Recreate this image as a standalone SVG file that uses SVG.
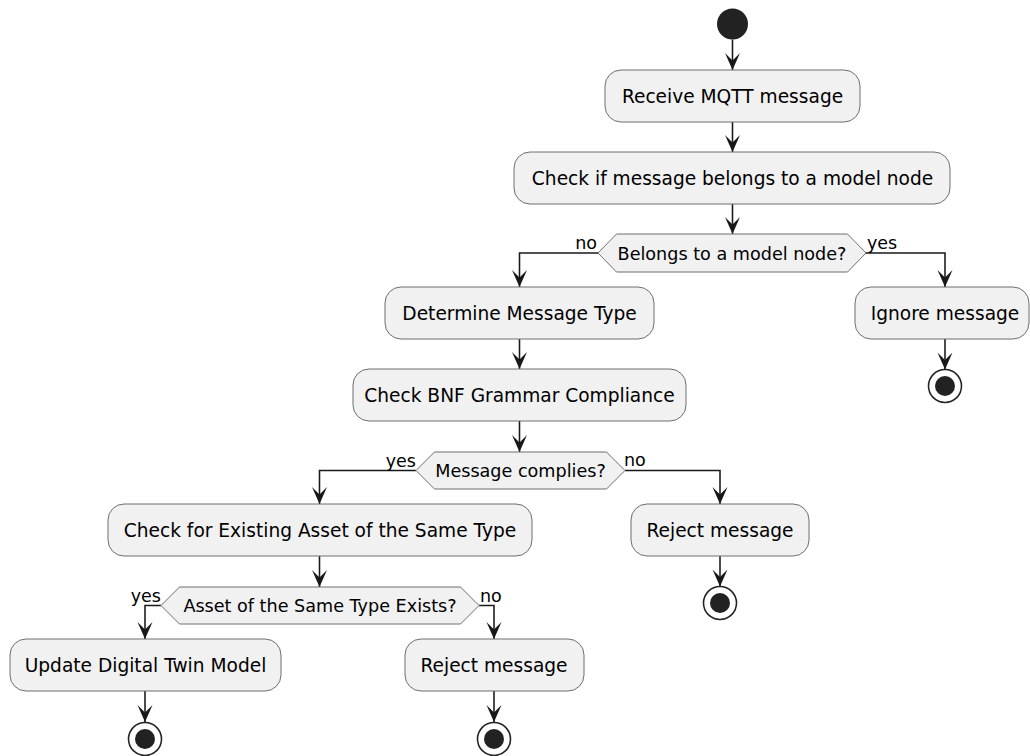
<svg xmlns="http://www.w3.org/2000/svg" width="1030" height="756" viewBox="0 0 1030 756">
<style>
.box{fill:#F1F1F1;stroke:#6e6e6e;stroke-width:1}
.t{font-family:"DejaVu Sans",sans-serif;font-size:18.6px;fill:#000;text-anchor:middle}
.dt{font-family:"DejaVu Sans",sans-serif;font-size:17.6px;fill:#000;text-anchor:middle}
.lbl{font-family:"DejaVu Sans",sans-serif;font-size:17.5px;fill:#000}
.e{text-anchor:end}
.ln{fill:none;stroke:#181818;stroke-width:1.55}
.endo{fill:#fff;stroke:#222;stroke-width:1.55}
.endi{fill:#222}
</style>
<defs>
<marker id="ah" markerUnits="userSpaceOnUse" viewBox="0 0 17 16" refX="17" refY="8" markerWidth="17" markerHeight="16" orient="auto">
<path d="M0,0.5 L17,8 L0,15.5 L7.5,8 Z" fill="#181818"/>
</marker>
</defs>
<g id="connectors">
<path class="ln" d="M732.5,39.5 V70" marker-end="url(#ah)"/>
<path class="ln" d="M732.5,122 V152" marker-end="url(#ah)"/>
<path class="ln" d="M732.5,204 V234" marker-end="url(#ah)"/>
<path class="ln" d="M598,253 H519.5 V287" marker-end="url(#ah)"/>
<path class="ln" d="M866,253 H945 V287" marker-end="url(#ah)"/>
<path class="ln" d="M945,339 V369.5" marker-end="url(#ah)"/>
<path class="ln" d="M519.5,339 V369" marker-end="url(#ah)"/>
<path class="ln" d="M519.5,421 V452" marker-end="url(#ah)"/>
<path class="ln" d="M416,470.5 H319.5 V504" marker-end="url(#ah)"/>
<path class="ln" d="M625,470.5 H720 V504" marker-end="url(#ah)"/>
<path class="ln" d="M720,556 V586.5" marker-end="url(#ah)"/>
<path class="ln" d="M319.5,556 V587" marker-end="url(#ah)"/>
<path class="ln" d="M161,605.5 H145 V639" marker-end="url(#ah)"/>
<path class="ln" d="M479,605.5 H494 V639" marker-end="url(#ah)"/>
<path class="ln" d="M145,691 V722" marker-end="url(#ah)"/>
<path class="ln" d="M494,691 V722" marker-end="url(#ah)"/>
<text class="lbl e" x="597" y="249">no</text>
<text class="lbl" x="867" y="249">yes</text>
<text class="lbl e" x="416" y="467">yes</text>
<text class="lbl" x="624" y="466">no</text>
<text class="lbl e" x="161" y="602">yes</text>
<text class="lbl" x="480" y="602">no</text>
</g>
<g id="start"><circle cx="732.5" cy="24" r="15.5" fill="#222"/></g>
<g id="receive"><rect class="box" x="605" y="70" width="255" height="52" rx="16"/><text class="t" x="732.5" y="102.5">Receive MQTT message</text></g>
<g id="check-model"><rect class="box" x="514" y="152" width="436" height="52" rx="16"/><text class="t" x="732.5" y="184.5">Check if message belongs to a model node</text></g>
<g id="belongs"><polygon class="box" points="616.5,234 847.5,234 866,253 847.5,272 616.5,272 598,253"/><text class="dt" x="732" y="259.5">Belongs to a model node?</text></g>
<g id="determine"><rect class="box" x="385" y="287" width="269" height="52" rx="16"/><text class="t" x="519.5" y="319.5">Determine Message Type</text></g>
<g id="ignore"><rect class="box" x="855" y="287" width="174" height="52" rx="16"/><text class="t" x="945" y="319.5">Ignore message</text></g>
<g id="end-ignore"><circle class="endo" cx="945" cy="386" r="16.5"/><circle class="endi" cx="945" cy="386" r="10"/></g>
<g id="bnf"><rect class="box" x="353" y="369" width="333" height="52" rx="16"/><text class="t" x="519.5" y="401.5">Check BNF Grammar Compliance</text></g>
<g id="complies"><polygon class="box" points="434.5,452 606.5,452 625,470.5 606.5,489 434.5,489 416,470.5"/><text class="dt" x="520.5" y="477">Message complies?</text></g>
<g id="check-asset"><rect class="box" x="108" y="504" width="424" height="52" rx="16"/><text class="t" x="320" y="536.5">Check for Existing Asset of the Same Type</text></g>
<g id="reject1"><rect class="box" x="631" y="504" width="178" height="52" rx="16"/><text class="t" x="720" y="536.5">Reject message</text></g>
<g id="end-reject1"><circle class="endo" cx="720" cy="603" r="16.5"/><circle class="endi" cx="720" cy="603" r="10"/></g>
<g id="asset-exists"><polygon class="box" points="179.5,587 460.5,587 479,605.5 460.5,624 179.5,624 161,605.5"/><text class="dt" x="320" y="612">Asset of the Same Type Exists?</text></g>
<g id="update"><rect class="box" x="10" y="639" width="271" height="52" rx="16"/><text class="t" x="145.5" y="671.5">Update Digital Twin Model</text></g>
<g id="reject2"><rect class="box" x="405" y="639" width="179" height="52" rx="16"/><text class="t" x="494" y="671.5">Reject message</text></g>
<g id="end-update"><circle class="endo" cx="145" cy="739" r="16.5"/><circle class="endi" cx="145" cy="739" r="10"/></g>
<g id="end-reject2"><circle class="endo" cx="494" cy="739" r="16.5"/><circle class="endi" cx="494" cy="739" r="10"/></g>
</svg>
